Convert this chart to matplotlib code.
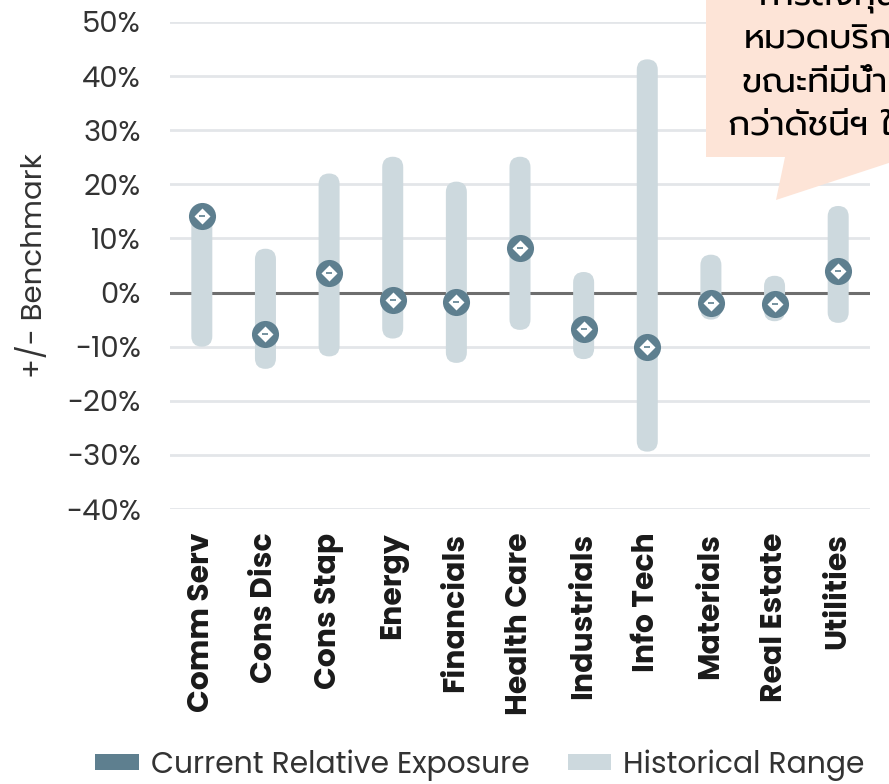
import matplotlib
matplotlib.use("Agg")
import matplotlib.pyplot as plt
from matplotlib.patches import FancyBboxPatch, Patch, Polygon

sectors = ["Comm Serv", "Cons Disc", "Cons Stap", "Energy", "Financials",
           "Health Care", "Industrials", "Info Tech", "Materials",
           "Real Estate", "Utilities"]
range_low = [-10.0, -14.1, -11.8, -8.5, -13.0, -6.9, -12.3, -29.4, -5.0, -5.3, -5.6]
range_high = [14.5, 8.1, 22.0, 25.1, 20.5, 25.1, 3.8, 43.1, 7.0, 3.1, 16.0]
current = [14.1, -7.6, 3.6, -1.3, -1.7, 8.3, -6.7, -10.1, -2.0, -2.2, 3.9]
yticks = [-40, -30, -20, -10, 0, 10, 20, 30, 40, 50]
note_lines = ["การลงทุน", "หมวดบริการ", "ขณะที่มีน้ำหนัก", "กว่าดัชนีฯ ใน"]

DARK = "#5e7f8f"
LIGHT = "#cdd9de"
PEACH = "#fde4d7"

plt.rcParams["font.family"] = ["Poppins", "DejaVu Sans"]
THAI = ["Prompt", "Kanit", "DejaVu Sans"]

W, H = 889, 784
fig = plt.figure(figsize=(W / 100, H / 100), dpi=100)
ax = fig.add_axes([170 / W, 1 - 509 / H, 700 / W, 487 / H])
ax.set_xlim(-0.5, len(sectors) - 0.5)
ax.set_ylim(-40, 50)

for y in yticks:
    if y == 0:
        continue
    ax.axhline(y, color="#e3e6e9", lw=2, zorder=0)
ax.axhline(0, color="#6e6e6e", lw=2.2, zorder=1)

# aspect factor so the rounded caps look round on screen
asp = (90 / 487) / (11 / 700)
bar_w = 0.33
for i, (lo, hi) in enumerate(zip(range_low, range_high)):
    p = FancyBboxPatch((i - bar_w / 2, lo), bar_w, hi - lo,
                       boxstyle=f"round,pad=0,rounding_size={bar_w / 2}",
                       mutation_aspect=asp, fc=LIGHT, ec="none", zorder=2)
    ax.add_patch(p)

x = list(range(len(sectors)))
ax.plot(x, current, "o", ms=19.5, color=DARK, mec="none", zorder=3)
ax.plot(x, current, "D", ms=8.5, color="white", mec="none", zorder=4)
ax.plot(x, current, "_", ms=4, mew=1.2, color=DARK, zorder=5)

for s in ax.spines.values():
    s.set_visible(False)
ax.tick_params(length=0)
ax.set_yticks(yticks)
ax.set_yticklabels([f"{v}%" for v in yticks], fontsize=21, color="#333333")
ax.tick_params(axis="y", pad=21)
ax.set_xticks(x)
ax.set_xticklabels(sectors, rotation=90, fontsize=21.5, fontweight="bold",
                   color="#1a1a1a", va="top")
ax.tick_params(axis="x", pad=17)
ax.set_ylabel("+/- Benchmark", fontsize=21, color="#333333", labelpad=12)

handles = [Patch(fc=DARK, ec="none", label="Current Relative Exposure"),
           Patch(fc=LIGHT, ec="none", label="Historical Range")]
fig.legend(handles=handles, loc="center", bbox_to_anchor=(0.54, 0.024),
           ncol=2, frameon=False, fontsize=21.5, handlelength=1.45,
           handleheight=0.46, handletextpad=0.4, columnspacing=1.3,
           labelcolor="#333333")

# callout box, runs off the right edge
pts = [(706, -10), (960, -10), (960, 157), (907, 157), (776, 200),
       (785, 157), (706, 157)]
fig.patches.append(Polygon([(px / W, 1 - py / H) for px, py in pts],
                           closed=True, fc=PEACH, ec="none",
                           transform=fig.transFigure, figure=fig))
for k, (line, lx) in enumerate(zip(note_lines, [757, 744, 741, 728])):
    fig.text(lx / W, 1 - (-3 + 43 * k) / H, line, fontsize=25, color="black",
             family=THAI, ha="left", va="center")

fig.savefig("out.png", dpi=100)
